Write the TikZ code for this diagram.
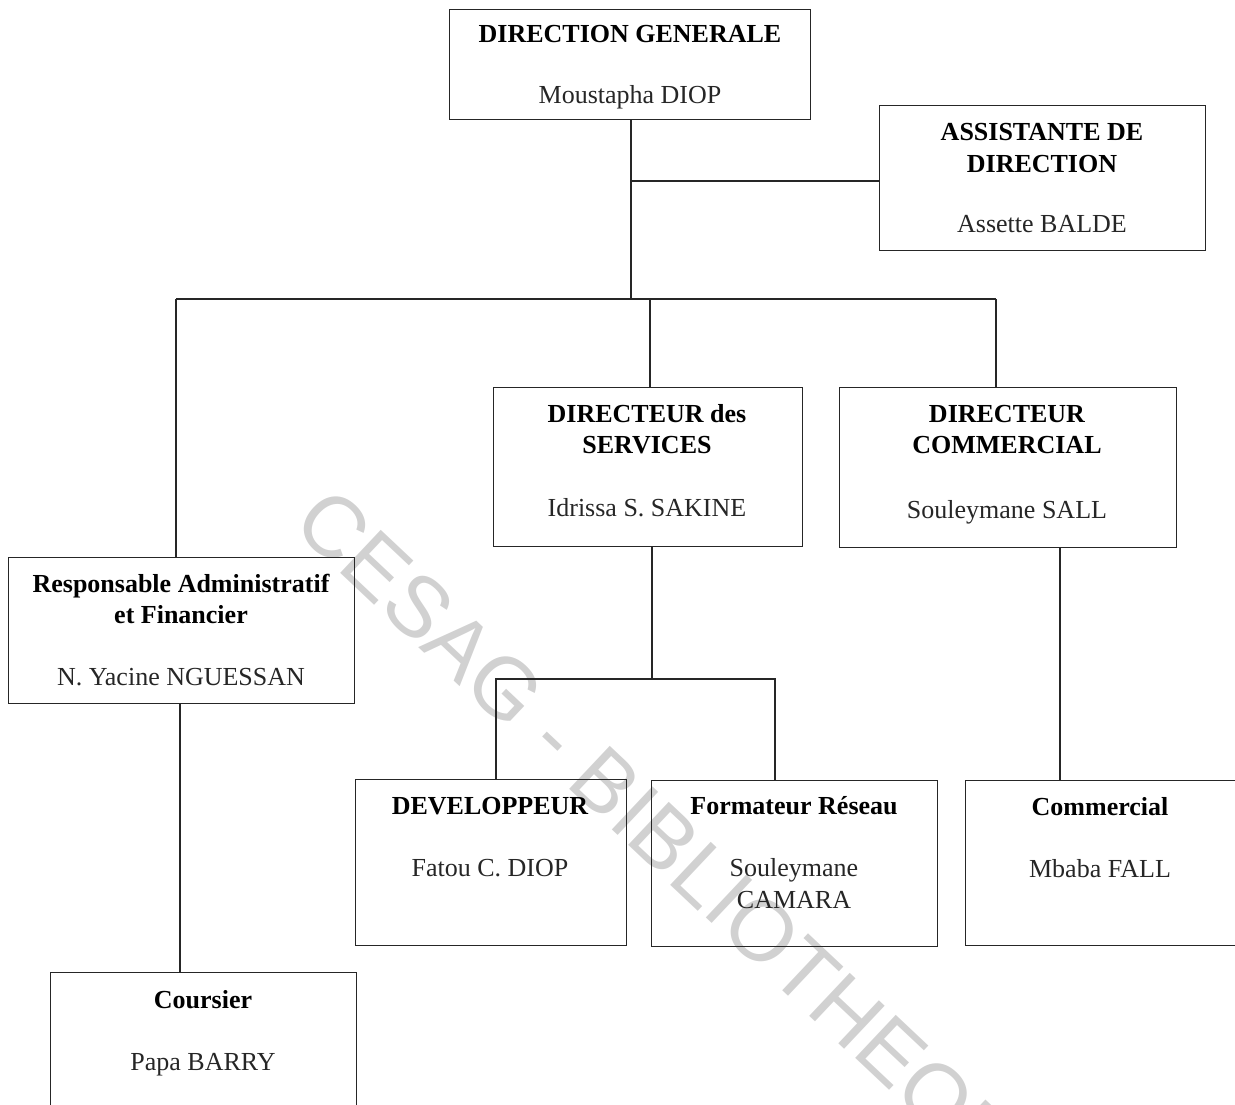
\documentclass[tikz,border=0pt]{standalone}
\usepackage{fontspec}
\setmainfont{Liberation Serif}
\newfontfamily\wmfont{Liberation Sans}
\begin{document}
\begin{tikzpicture}[x=1pt,y=-1pt,
  box/.style={draw=black!85,line width=1.1pt,rectangle,inner sep=0pt,anchor=north west},
  ttl/.style={anchor=base,inner sep=0pt,font=\fontsize{26}{31}\selectfont\bfseries},
  nm/.style={anchor=base,inner sep=0pt,text=black!85,font=\fontsize{26}{31}\selectfont},
  wire/.style={draw=black!85,line width=1.1pt},
  wm/.style={anchor=base west,inner sep=0pt,text=black!18,rotate=-43.3,font=\wmfont\fontsize{86}{100}\selectfont}]
\useasboundingbox (0,0) rectangle (1235,1105);
% watermark
\node[wm] (wmark) at (290,526) {CESAG - BIBLIOTHEQUE};
% boxes
\node[box,minimum width=361pt,minimum height=110pt] (dg) at (449,9) {};
\node[box,minimum width=326pt,minimum height=145pt] (as) at (879,105) {};
\node[box,minimum width=309pt,minimum height=159pt] (ds) at (493,387) {};
\node[box,minimum width=337pt,minimum height=160pt] (dc) at (839,387) {};
\node[box,minimum width=346pt,minimum height=146pt] (raf) at (8,557) {};
\node[box,minimum width=271pt,minimum height=166pt] (dev) at (355,779) {};
\node[box,minimum width=286pt,minimum height=166pt] (fr) at (651,780) {};
\node[box,minimum width=270pt,minimum height=165pt] (com) at (965,780) {};
\node[box,minimum width=306pt,minimum height=150pt] (cou) at (50,972) {};
% texts
\node[ttl] (dgT) at (630,43) {DIRECTION GENERALE};
\node[nm] (dgN) at (630,104) {Moustapha DIOP};
\node[ttl] (asT1) at (1042,141) {ASSISTANTE DE};
\node[ttl] (asT2) at (1042,172) {DIRECTION};
\node[nm] (asN) at (1042,232) {Assette BALDE};
\node[ttl] (dsT1) at (647,422) {DIRECTEUR des};
\node[ttl] (dsT2) at (647,453) {SERVICES};
\node[nm] (dsN) at (647,516) {Idrissa S. SAKINE};
\node[ttl] (dcT1) at (1007,422) {DIRECTEUR};
\node[ttl] (dcT2) at (1007,453) {COMMERCIAL};
\node[nm] (dcN) at (1007,518) {Souleymane SALL};
\node[ttl] (rafT1) at (181,592) {Responsable Administratif};
\node[ttl] (rafT2) at (181,623) {et Financier};
\node[nm] (rafN) at (181,685) {N. Yacine NGUESSAN};
\node[ttl] (devT) at (490,814) {DEVELOPPEUR};
\node[nm] (devN) at (490,876) {Fatou C. DIOP};
\node[ttl] (frT) at (794,814) {Formateur Réseau};
\node[nm] (frN1) at (794,876) {Souleymane};
\node[nm] (frN2) at (794,908) {CAMARA};
\node[ttl] (comT) at (1100,815) {Commercial};
\node[nm] (comN) at (1100,877) {Mbaba FALL};
\node[ttl] (couT) at (203,1008) {Coursier};
\node[nm] (couN) at (203,1070) {Papa BARRY};
% connector coordinates
\coordinate (b0) at (631,299);
\coordinate (bL) at (176,299);
\coordinate (bM) at (650,299);
\coordinate (bR) at (996,299);
\coordinate (aY) at (631,181);
\coordinate (sM) at (652,679);
\coordinate (sL) at (496,679);
\coordinate (sR) at (775,679);
\coordinate (cX) at (1060,660);
\coordinate (rX) at (180,840);
% connectors
\draw[wire] (b0 |- dg.south) -- (b0);
\draw[wire] (aY) -- (aY -| as.west);
\draw[wire] (bL) -- (bR);
\draw[wire] (bL) -- (bL |- raf.north);
\draw[wire] (bM) -- (bM |- ds.north);
\draw[wire] (bR) -- (bR |- dc.north);
\draw[wire] (sM |- ds.south) -- (sM);
\draw[wire] (sL |- dev.north) -- (sL) -- (sR) -- (sR |- fr.north);
\draw[wire] (cX |- dc.south) -- (cX |- com.north);
\draw[wire] (rX |- raf.south) -- (rX |- cou.north);
\end{tikzpicture}
\end{document}
